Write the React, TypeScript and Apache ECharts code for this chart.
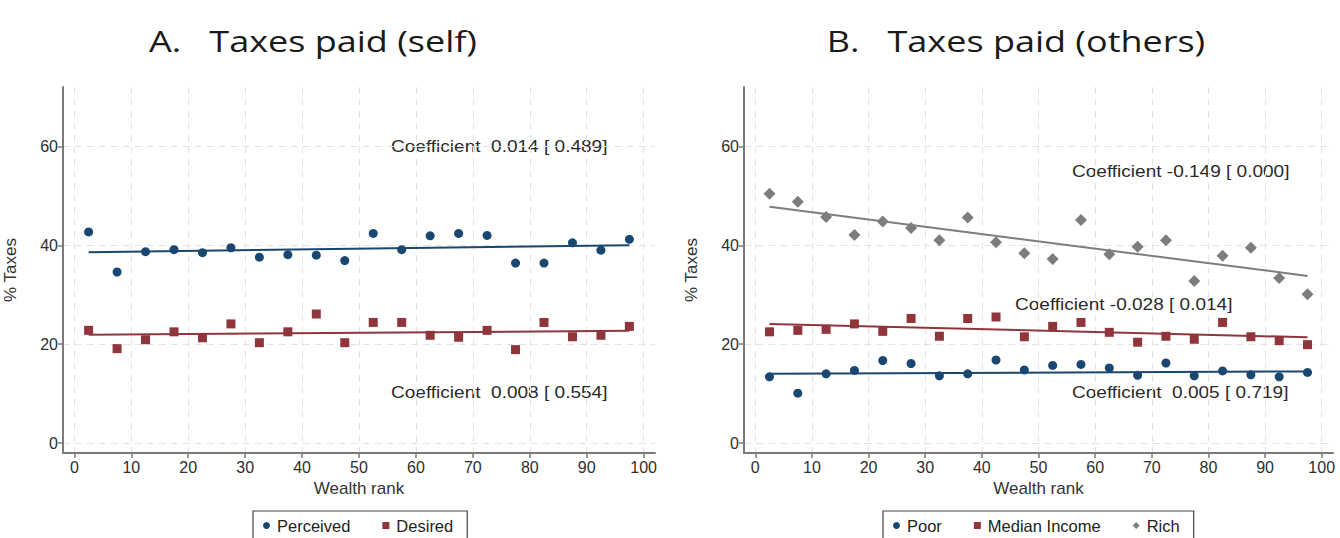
import React, { useEffect, useRef } from "react";
import * as echarts from "echarts";

const wealthRank = [2.5, 7.5, 12.5, 17.5, 22.5, 27.5, 32.5, 37.5, 42.5, 47.5, 52.5, 57.5, 62.5, 67.5, 72.5, 77.5, 82.5, 87.5, 92.5, 97.5];

const perceived = [42.7, 34.6, 38.7, 39.1, 38.5, 39.5, 37.6, 38.1, 38.0, 36.9, 42.4, 39.1, 41.9, 42.4, 42.0, 36.4, 36.4, 40.5, 39.0, 41.2];
const desired = [22.8, 19.1, 20.9, 22.5, 21.3, 24.1, 20.3, 22.5, 26.1, 20.3, 24.4, 24.4, 21.8, 21.4, 22.8, 18.9, 24.4, 21.5, 21.8, 23.6];

const poor = [13.4, 10.1, 14.0, 14.7, 16.7, 16.1, 13.6, 14.0, 16.8, 14.8, 15.7, 15.9, 15.2, 13.7, 16.2, 13.6, 14.6, 13.8, 13.4, 14.3];
const medianIncome = [22.5, 22.8, 23.0, 24.1, 22.6, 25.2, 21.6, 25.2, 25.5, 21.5, 23.6, 24.4, 22.4, 20.4, 21.6, 21.0, 24.4, 21.5, 20.7, 19.9];
const rich = [50.4, 48.8, 45.7, 42.1, 44.8, 43.5, 41.0, 45.6, 40.6, 38.4, 37.2, 45.1, 38.2, 39.7, 41.0, 32.8, 37.9, 39.5, 33.4, 30.1];

// fitted line end values (at first and last rank)
const fitPerceived = [38.6, 40.0];
const fitDesired = [21.9, 22.7];
const fitPoor = [14.0, 14.5];
const fitMedian = [24.1, 21.4];
const fitRich = [47.8, 33.8];

const xTicks = [0, 10, 20, 30, 40, 50, 60, 70, 80, 90, 100];
const yTicks = [0, 20, 40, 60];

const titles = ["A.   Taxes paid (self)", "B.   Taxes paid (others)"];
const coefLabels = [
  "Coefficient  0.014 [ 0.489]",
  "Coefficient  0.008 [ 0.554]",
  "Coefficient -0.149 [ 0.000]",
  "Coefficient -0.028 [ 0.014]",
  "Coefficient  0.005 [ 0.719]",
];

const NAVY = "#1a476f";
const MAROON = "#90353b";
const GRAY = "#7d7d7d";
const FONT = "'Liberation Sans', Arial, sans-serif";
const TITLE_FONT = "'Open Sans', Lato, sans-serif";

function pairs(ys: number[]) {
  return wealthRank.map((x, i) => [x, ys[i]]);
}
function fit(ends: number[]) {
  return [
    [wealthRank[0], ends[0]],
    [wealthRank[wealthRank.length - 1], ends[1]],
  ];
}

function makeX(gridIndex: number) {
  return {
    type: "value",
    gridIndex,
    min: -2,
    max: 102,
    name: "Wealth rank",
    nameLocation: "middle",
    nameGap: 27,
    nameTextStyle: { fontFamily: FONT, fontSize: 17, color: "#333" },
    axisLine: { onZero: false, lineStyle: { color: "#7a7a7a", width: 2 } },
    axisTick: { show: true, length: 5, customValues: xTicks, lineStyle: { color: "#7a7a7a", width: 1.5 } },
    axisLabel: { customValues: xTicks, fontFamily: FONT, fontSize: 16, color: "#2e2e2e", margin: 6 },
    splitLine: { show: true, lineStyle: { color: "#e4e4e4", type: [7, 5], width: 1 } },
  };
}
function makeY(gridIndex: number) {
  return {
    type: "value",
    gridIndex,
    min: -2,
    max: 72,
    name: "% Taxes",
    nameLocation: "middle",
    nameGap: 44,
    nameRotate: 90,
    nameTextStyle: { fontFamily: FONT, fontSize: 17, color: "#333" },
    axisLine: { show: true, onZero: false, lineStyle: { color: "#7a7a7a", width: 2 } },
    axisTick: { show: true, length: 5, customValues: yTicks, lineStyle: { color: "#7a7a7a", width: 1.5 } },
    axisLabel: { customValues: yTicks, fontFamily: FONT, fontSize: 16, color: "#2e2e2e", margin: 5 },
    splitLine: { show: true, lineStyle: { color: "#e4e4e4", type: [7, 5], width: 1 } },
  };
}

function scatter(name: string, data: number[], axis: number, symbol: string, size: number, color: string) {
  return {
    type: "scatter",
    name,
    xAxisIndex: axis,
    yAxisIndex: axis,
    data: pairs(data),
    symbol,
    symbolSize: size,
    itemStyle: { color, opacity: 1 },
    z: 3,
  };
}
function fitLine(name: string, ends: number[], axis: number, color: string) {
  return {
    type: "line",
    name,
    xAxisIndex: axis,
    yAxisIndex: axis,
    data: fit(ends),
    symbol: "none",
    lineStyle: { color, width: 2 },
    z: 2,
  };
}

function coefText(text: string, x: number, y: number) {
  return {
    type: "text",
    x,
    y,
    scaleX: 1.12,
    style: {
      text,
      fontFamily: FONT,
      fontSize: 17,
      fill: "#2a2a2a",
      textAlign: "left",
      textVerticalAlign: "middle",
    },
  };
}

function titleText(text: string, x: number) {
  return {
    type: "text",
    x,
    y: 41,
    scaleX: 1.2,
    style: {
      text,
      fontFamily: TITLE_FONT,
      fontSize: 30,
      fill: "#1a1a1a",
      textAlign: "center",
      textVerticalAlign: "middle",
    },
  };
}

export default function App() {
  const ref = useRef<HTMLDivElement>(null);
  useEffect(() => {
    if (!ref.current) return;
    const chart = echarts.init(ref.current, null, { renderer: "svg" });
    const legendCommon = {
      orient: "horizontal",
      backgroundColor: "#fff",
      borderColor: "#444",
      borderWidth: 1.2,
      borderRadius: 0,
      itemWidth: 7,
      itemHeight: 7,
      itemGap: 32,
      padding: [6, 14, 14, 10],
      textStyle: { fontFamily: FONT, fontSize: 16.5, color: "#222", padding: [0, 0, 0, 2] },
    };
    chart.setOption({
      animation: false,
      backgroundColor: "#fff",
      grid: [
        { left: 63, top: 87, width: 592, height: 366 },
        { left: 744, top: 87, width: 589, height: 366 },
      ],
      xAxis: [makeX(0), makeX(1)],
      yAxis: [makeY(0), makeY(1)],
      legend: [
        {
          ...legendCommon,
          left: 253,
          top: 511,
          data: [
            { name: "Perceived", icon: "circle" },
            { name: "Desired", icon: "rect" },
          ],
        },
        {
          ...legendCommon,
          left: 883,
          top: 511,
          data: [
            { name: "Poor", icon: "circle" },
            { name: "Median Income", icon: "rect" },
            { name: "Rich", icon: "diamond" },
          ],
        },
      ],
      series: [
        scatter("Perceived", perceived, 0, "circle", 9, NAVY),
        scatter("Desired", desired, 0, "rect", 9, MAROON),
        fitLine("fit-perceived", fitPerceived, 0, NAVY),
        fitLine("fit-desired", fitDesired, 0, MAROON),
        scatter("Poor", poor, 1, "circle", 9, NAVY),
        scatter("Median Income", medianIncome, 1, "rect", 9, MAROON),
        scatter("Rich", rich, 1, "diamond", 12, GRAY),
        fitLine("fit-poor", fitPoor, 1, NAVY),
        fitLine("fit-median", fitMedian, 1, MAROON),
        fitLine("fit-rich", fitRich, 1, GRAY),
      ],
      graphic: [
        titleText(titles[0], 313),
        titleText(titles[1], 1016),
        coefText(coefLabels[0], 391, 146),
        coefText(coefLabels[1], 391, 392),
        coefText(coefLabels[2], 1072, 171),
        coefText(coefLabels[3], 1015, 304),
        coefText(coefLabels[4], 1072, 392),
      ],
    });
    return () => chart.dispose();
  }, []);
  return <div ref={ref} style={{ position: "absolute", left: 0, top: 0, width: 1340, height: 538 }} />;
}
